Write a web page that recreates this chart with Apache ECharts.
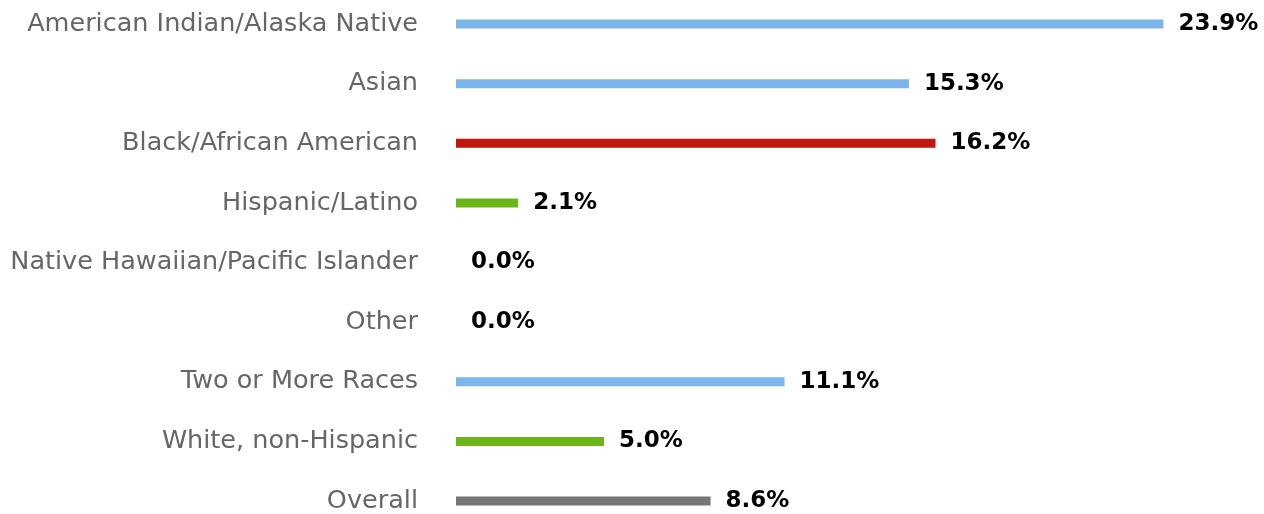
<!DOCTYPE html>
<html>
<head>
<meta charset="utf-8">
<script src="https://cdn.jsdelivr.net/npm/echarts@6/dist/echarts.min.js"></script>
<style>
  html, body { margin: 0; padding: 0; background: #fff; }
  #chart { width: 1264px; height: 514px; }
</style>
</head>
<body>
<div id="chart"></div>
<script>
// 数据
const categories = [
  'American Indian/Alaska Native',
  'Asian',
  'Black/African American',
  'Hispanic/Latino',
  'Native Hawaiian/Pacific Islander',
  'Other',
  'Two or More Races',
  'White, non-Hispanic',
  'Overall'
]
const rates = [23.9, 15.3, 16.2, 2.1, 0.0, 0.0, 11.1, 5.0, 8.6]
const barColors = ['#7cb5ec', '#7cb5ec', '#c0160c', '#6bb516', '#7cb5ec', '#7cb5ec', '#7cb5ec', '#6bb516', '#777777']

const chart = echarts.init(document.getElementById('chart'))

const option = {
  animation: false,
  grid: {
    left: 456,
    right: 68,
    top: 24,
    bottom: 13
  },
  xAxis: {
    type: 'value',
    min: 0,
    max: 25,
    show: false
  },
  yAxis: {
    type: 'category',
    inverse: true,
    boundaryGap: false,
    data: categories,
    axisLine: { show: false },
    axisTick: { show: false },
    splitLine: { show: false },
    axisLabel: {
      margin: 38,
      color: '#666666',
      fontSize: 25.5,
      fontFamily: 'DejaVu Sans'
    }
  },
  series: [
    {
      type: 'bar',
      barWidth: 9,
      data: rates.map((v, i) => ({ value: v, itemStyle: { color: barColors[i] } })),
      label: {
        show: true,
        position: 'right',
        distance: 15,
        color: '#000',
        fontSize: 23,
        fontWeight: 'bold',
        fontFamily: 'DejaVu Sans',
        formatter: (p) => p.value.toFixed(1) + '%'
      }
    }
  ]
}
chart.setOption(option)
</script>
</body>
</html>
